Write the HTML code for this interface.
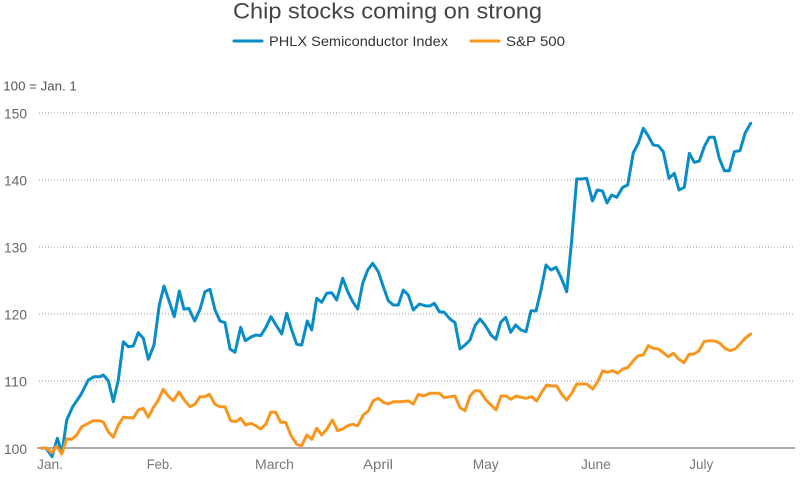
<!DOCTYPE html>
<html>
<head>
<meta charset="utf-8">
<style>
html,body{margin:0;padding:0;background:#fff;}
svg{display:block;}
text{font-family:"Liberation Sans",sans-serif;}
</style>
</head>
<body>
<svg width="800" height="500" viewBox="0 0 800 500" xmlns="http://www.w3.org/2000/svg">
<rect width="800" height="500" fill="#fff"/>
<!-- Title -->
<text x="233" y="18.5" font-size="22" fill="#444" textLength="309" lengthAdjust="spacingAndGlyphs">Chip stocks coming on strong</text>
<!-- Legend -->
<line x1="234" y1="41" x2="262" y2="41" stroke="#0a8dc7" stroke-width="3" stroke-linecap="round"/>
<text x="269" y="46" font-size="14" fill="#333" textLength="179" lengthAdjust="spacingAndGlyphs">PHLX Semiconductor Index</text>
<line x1="471" y1="41" x2="499" y2="41" stroke="#f8971f" stroke-width="3" stroke-linecap="round"/>
<text x="506" y="46" font-size="14" fill="#333" textLength="59" lengthAdjust="spacingAndGlyphs">S&amp;P 500</text>
<!-- unit label -->
<text x="3.3" y="90.7" font-size="12.5" fill="#555" textLength="73.5" lengthAdjust="spacingAndGlyphs">100 = Jan. 1</text>
<!-- gridlines -->
<g stroke="#999" stroke-width="1" stroke-dasharray="1 2">
<line x1="39" y1="113" x2="795" y2="113"/>
<line x1="39" y1="180" x2="795" y2="180"/>
<line x1="39" y1="247" x2="795" y2="247"/>
<line x1="39" y1="314" x2="795" y2="314"/>
<line x1="39" y1="381" x2="795" y2="381"/>
</g>
<!-- y labels -->
<g font-size="14" fill="#666">
<text x="4" y="118.5" textLength="23" lengthAdjust="spacingAndGlyphs">150</text>
<text x="4" y="185.5" textLength="23" lengthAdjust="spacingAndGlyphs">140</text>
<text x="4" y="252.5" textLength="23" lengthAdjust="spacingAndGlyphs">130</text>
<text x="4" y="319.5" textLength="23" lengthAdjust="spacingAndGlyphs">120</text>
<text x="4" y="386.5" textLength="23" lengthAdjust="spacingAndGlyphs">110</text>
<text x="4" y="454" textLength="23" lengthAdjust="spacingAndGlyphs">100</text>
</g>
<!-- x labels -->
<g font-size="14" fill="#777">
<text x="37" y="469" textLength="26" lengthAdjust="spacingAndGlyphs">Jan.</text>
<text x="146.7" y="469" textLength="26" lengthAdjust="spacingAndGlyphs">Feb.</text>
<text x="255" y="469" textLength="39" lengthAdjust="spacingAndGlyphs">March</text>
<text x="363" y="469" textLength="30" lengthAdjust="spacingAndGlyphs">April</text>
<text x="472.7" y="469" textLength="26" lengthAdjust="spacingAndGlyphs">May</text>
<text x="581" y="469" textLength="29.7" lengthAdjust="spacingAndGlyphs">June</text>
<text x="689.3" y="469" textLength="24" lengthAdjust="spacingAndGlyphs">July</text>
</g>
<!-- baseline -->
<line x1="37" y1="448" x2="795" y2="448" stroke="#aaa" stroke-width="2"/>
<!-- Blue series -->
<polyline fill="none" stroke="#0a8dc7" stroke-width="3" stroke-linejoin="round" stroke-linecap="round" points="
41.7,448.3 46,448 52,456.7 57.3,438.3 62,452.7 66.7,420 72.7,406.7 80.7,395 88.3,380 94,376.7 100,376.7 103.3,375 108.3,380.7 113.3,401.7 118.3,380 123.3,341.7 128.3,346.7 133.3,346 138.3,332.7 143.3,338.3 148.3,359.3 154,345 159.3,305 164,286 169.3,301.7 174.3,316.7 179.3,291 184,309.3 188.7,308.3 194.7,321 200,309.3 205,291.7 210,289.3 215,310 220,321 225,322.7 230,349 235,352.3 240.7,327.3 245.3,340.7 251.7,336.7 256,335 260.7,335.7 265.7,327.7 271,316.7 276,325 281.7,334 286.7,313.3 291.7,330 296.7,344.3 301.7,345 307.3,321 311.7,330 316.7,298.3 321.7,302.3 326.7,293.3 331.7,292.7 336.7,300 342.7,278.3 347.7,291.7 352.7,301.7 357.7,309 362.7,283.3 367.7,270 372.7,263.3 378.3,271.7 383.3,286.7 388.3,300.7 393.3,305 398.3,305 403.3,290 408.3,295 413.3,310 419.3,304 425,305.7 430,306 434.3,303.3 439.3,311.7 444.3,312.3 450,319 455,322.7 460,349 465,345 470,340 475,325.7 480,319 485,325 491,335 496,339.3 500.7,322.3 505.7,317.3 510.7,332.3 515.7,325 521,330 526,331.7 531,310.7 536,311 541,290 546,265 551,270 556,267.3 560.7,276.7 566.7,291.7 571.7,240 576.7,179 581.7,179 586.7,178.3 592.5,201 597.3,190 602.5,191 607,203 611.7,195 616.7,197.3 622.7,187.3 627.7,185 633.3,152.7 638.3,143.3 643.3,128.3 648.3,136 653.3,145 658.3,145.7 663.3,151.7 669,178.3 674.3,173.3 679,190 684.3,187.3 689.3,153.3 694.3,162.3 699.3,161 704.3,146.7 709.3,137.3 714.3,137.3 719.3,158.3 724.3,170.7 729.3,170.7 734.3,151.7 740,150.7 745,133.3 750.7,123.3"/>
<!-- Orange series -->
<polyline fill="none" stroke="#f8971f" stroke-width="3" stroke-linejoin="round" stroke-linecap="round" points="
41.7,448 46.7,448.3 51.7,452.7 56.7,446 61.7,454 66.7,439 71.7,439.3 76.7,435 81.7,426.7 88.3,423.3 93.3,420.7 99,420.7 103.3,422 108.3,431.7 113.3,437.3 118.3,425 123.3,417.3 128.3,417.7 133.3,418 138.3,410 143.3,408.3 148.3,417.3 153.3,407.7 158.3,400 163.3,389.3 168.3,396 173.3,400.7 179,392 184.3,400 190,406.7 195,404.3 200,396.7 205,396.7 209.3,394.3 215,404.3 220,406.7 225,406.7 230.7,420.7 235.7,421.7 240.7,418.3 245.7,425 250.7,423.3 255.7,425.7 260.7,429 265.7,424.3 270.7,412.3 275.7,412.3 280.7,422.3 285.7,422.3 290.7,435 296.7,444.3 301.7,445.7 306.7,435 311.7,439.3 316.7,428.3 321.7,435 326.7,429.3 332.3,420 337.7,430.7 342.7,429 347.7,425.7 352.7,424.3 357.7,425.7 363.3,415 368.3,411 373.3,400.7 378.3,398.3 383.3,402.3 388.3,404 393.3,401.7 400,401.7 408.3,401 413.3,404 418.3,394.3 423.3,396 430,393.3 439.3,393.3 444.3,397.7 450,396.7 455,396 460,407.7 465,410.7 470,396 475,390.7 480,391 486,400 491,405 496,410 501,396 506,396 511,399.3 516,396 521,397.3 526,398.3 531.7,396.7 536.7,401 541.7,392.3 546.7,385 551.7,386 556.7,386 561.7,394.3 566.7,400 571.7,393.3 576.7,384 581.7,384 586.7,384 592.7,389 597.7,381.7 602.7,371 607.7,372.3 612.7,370.7 617.7,373.3 622.7,369 627.7,367.7 633.3,360.7 638.3,355.7 643.3,355 648.3,345.7 653.3,348.3 658.3,349 663.3,352.7 668.3,356.7 673.3,353.3 679,359.3 684,362.7 689,354.3 694,354 699,350.7 704,341.7 709,340.7 715,341 720,343.3 725,348.3 730,350.7 735,349 740,344 745,338.3 750.7,334"/>
</svg>
</body>
</html>
